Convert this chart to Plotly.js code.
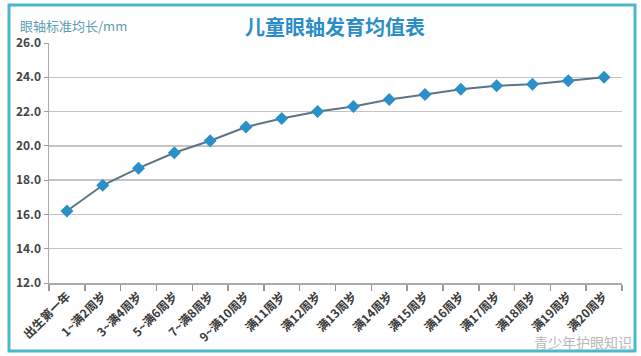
<!DOCTYPE html>
<html>
<head>
<meta charset="utf-8">
<script src="https://cdn.plot.ly/plotly-3.0.1.min.js"></script>
<style>
html,body{margin:0;padding:0;background:#fff;}
#chart{width:641px;height:356px;}
</style>
</head>
<body>
<div id="chart"></div>
<script>
const categories = ["出生第一年","1~满2周岁","3~满4周岁","5~满6周岁","7~满8周岁","9~满10周岁","满11周岁","满12周岁","满13周岁","满14周岁","满15周岁","满16周岁","满17周岁","满18周岁","满19周岁","满20周岁"];
const axialLength = [16.2, 17.7, 18.7, 19.6, 20.3, 21.1, 21.6, 22.0, 22.3, 22.7, 23.0, 23.3, 23.5, 23.6, 23.8, 24.0];
const yTicks = [12, 14, 16, 18, 20, 22, 24, 26];

const font = "'Noto Sans CJK SC', 'Noto Sans', sans-serif";

const trace = {
  type: 'scatter',
  mode: 'lines+markers',
  x: categories,
  y: axialLength,
  line: {color: '#5a7686', width: 2},
  marker: {symbol: 'diamond', size: 10, color: '#2a90c8'},
  hoverinfo: 'x+y'
};

const layout = {
  width: 641, height: 356,
  margin: {l: 49, r: 19, t: 43, b: 73},
  paper_bgcolor: '#ffffff',
  plot_bgcolor: '#ffffff',
  showlegend: false,
  title: {
    text: '<b>儿童眼轴发育均值表</b>',
    font: {family: font, size: 20, color: '#2b8dc6'},
    x: 0.499, xanchor: 'center', xref: 'paper',
    y: 0.92, yanchor: 'middle'
  },
  xaxis: {
    type: 'category',
    range: [-0.5, 15.5],
    tickvals: categories,
    ticktext: categories.map(c => '<b>' + c + '</b>'),
    tickson: 'boundaries',
    ticks: 'outside', ticklen: 6, tickcolor: '#999', tickwidth: 1.5,
    showline: true, linecolor: '#aaa', linewidth: 1.5,
    showgrid: false,
    tickangle: -45,
    tickfont: {family: font, size: 12, color: '#3a3a3a'},
    fixedrange: true
  },
  yaxis: {
    range: [12, 26],
    tickvals: yTicks,
    ticktext: yTicks.map(v => '<b>' + v.toFixed(1) + '</b>'),
    ticks: 'outside', ticklen: 4, tickcolor: '#999',
    showline: true, linecolor: '#aaa', linewidth: 1.5,
    showgrid: true, gridcolor: '#c4c4c4', gridwidth: 1.5,
    zeroline: false,
    tickfont: {family: font, size: 12, color: '#444'},
    fixedrange: true
  },
  shapes: [{
    type: 'rect', xref: 'paper', yref: 'paper',
    x0: (9 - 49) / 573, x1: (635 - 49) / 573,
    y0: (283 - 351) / 240, y1: (283 - 5) / 240,
    line: {color: '#4bb9c9', width: 3},
    fillcolor: 'rgba(0,0,0,0)',
    layer: 'below'
  }],
  annotations: [
    {
      text: '眼轴标准均长/mm', xref: 'paper', yref: 'paper',
      x: (18 - 49) / 573, y: (283 - 25) / 240,
      xanchor: 'left', yanchor: 'middle', showarrow: false,
      font: {family: font, size: 13, color: '#5b9db2'}
    },
    {
      text: '青少年护眼知识', xref: 'paper', yref: 'paper',
      x: (634 - 49) / 573, y: (283 - 342) / 240,
      xanchor: 'right', yanchor: 'middle', showarrow: false,
      font: {family: font, size: 14, color: '#b8b8b8'}
    }
  ]
};

Plotly.newPlot('chart', [trace], layout, {displayModeBar: false, staticPlot: true});
</script>
</body>
</html>
